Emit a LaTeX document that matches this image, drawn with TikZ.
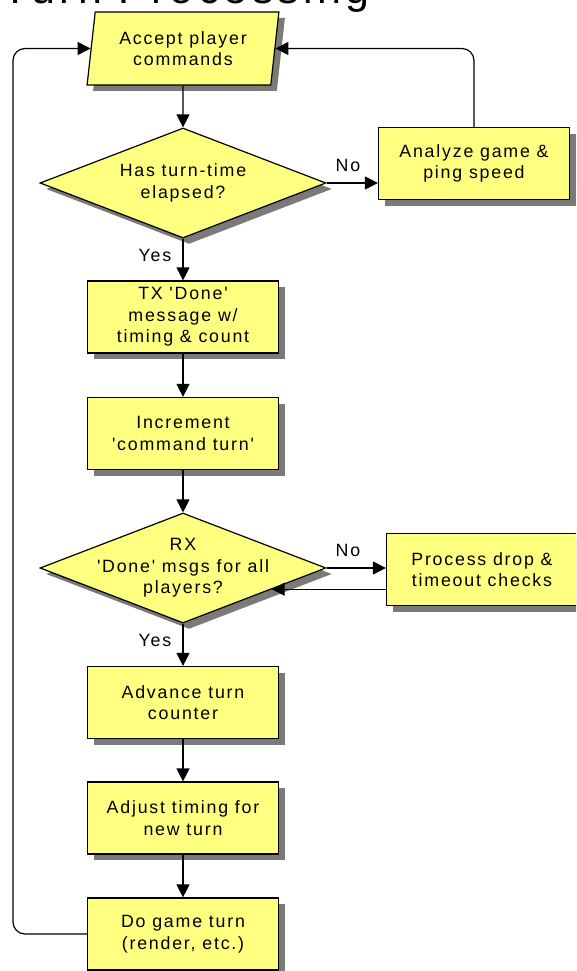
\documentclass[tikz,border=0pt]{standalone}
\usepackage{fontspec}
\setmainfont{Liberation Sans}
\newfontfamily\labfont{Liberation Sans}[LetterSpace=10]
\usetikzlibrary{shapes.geometric,shadows,arrows.meta,calc}
\definecolor{boxfill}{HTML}{FFFF80}
\definecolor{shadowgray}{HTML}{7A7A7A}
\newcommand\labtxt{\labfont\fontsize{17.8pt}{21.5pt}\selectfont}
\newcommand\titletxt{\labfont\fontsize{43pt}{50pt}\selectfont}
\tikzset{
  shad/.style={drop shadow={shadow xshift=6pt,shadow yshift=-6pt,fill=shadowgray,opacity=1}},
  lbl/.style={font=\labtxt, align=center, inner sep=0pt},
  procbox/.style={draw, line width=1.2pt, fill=boxfill, rectangle, minimum width=191pt,
    minimum height=72pt, inner sep=0pt, shad, font=\labtxt, align=center},
  decbox/.style={draw, line width=1.2pt, fill=boxfill, diamond, aspect=2.6,
    minimum width=286pt, minimum height=110pt, inner sep=0pt, shad},
  iobox/.style={draw, line width=1.2pt, fill=boxfill, trapezium, trapezium left angle=80.7,
    trapezium right angle=99.3, trapezium stretches=true, minimum width=192pt,
    minimum height=73pt, inner sep=1pt, shad, font=\labtxt, align=center},
  conn/.style={line width=1.2pt, -{Triangle[length=13pt,width=13pt]}},
  edgelbl/.style={font=\labtxt, inner sep=0pt}
}
\begin{document}
\begin{tikzpicture}[x=1pt,y=-1pt]
\useasboundingbox (0,0) rectangle (576,971);
\clip (0,0) rectangle (576,971);
\node[font=\titletxt, anchor=base east, inner sep=0pt] (title) at (370,4) {Turn Processing};

\node[iobox] (pa) at (183,48.5) {Accept player\\commands};
\node[decbox, label={[lbl]center:{Has turn-time\\elapsed?}}] (d1) at (183,183) {};
\node[procbox] (an) at (474,163.5) {Analyze game \&\\ping speed};
\node[procbox] (tx) at (183,317) {TX 'Done'\\message w/\\timing \& count};
\node[procbox] (inc) at (183,433.5) {Increment\\'command turn'};
\node[decbox, label={[lbl]center:{RX\\'Done' msgs for all\\players?}}] (d2) at (183,568) {};
\node[procbox] (pr) at (482,569.5) {Process drop \&\\timeout checks};
\node[procbox] (adv) at (183,702.5) {Advance turn\\counter};
\node[procbox] (adj) at (183,818) {Adjust timing for\\new turn};
\node[procbox] (dg) at (183,934) {Do game turn\\(render, etc.)};

\node[edgelbl] (no1) at (348,165) {No};
\node[edgelbl] (yes1) at (155,255) {Yes};
\node[edgelbl] (no2) at (348,550) {No};
\node[edgelbl] (yes2) at (155,640) {Yes};

\coordinate (lx) at (13,0);
\coordinate (rp) at ($(d2.east)!0.382!(d2.south)$);

\draw[conn] (pa) -- (d1);
\draw[conn] (d1.east) -- (d1.east -| an.west);
\draw[conn, rounded corners=12pt] (an.north) -- (an.north |- pa.east) -- (pa.east);
\draw[conn] (d1) -- (tx);
\draw[conn] (tx) -- (inc);
\draw[conn] (inc) -- (d2);
\draw[conn] (d2.east) -- (d2.east -| pr.west);
\draw[conn] (pr.west |- rp) -- (rp);
\draw[conn] (d2) -- (adv);
\draw[conn] (adv) -- (adj);
\draw[conn] (adj) -- (dg);
\draw[conn, rounded corners=12pt] (dg.west) -- (dg.west -| lx) -- (pa.west -| lx) -- (pa.west);
\end{tikzpicture}
\end{document}
